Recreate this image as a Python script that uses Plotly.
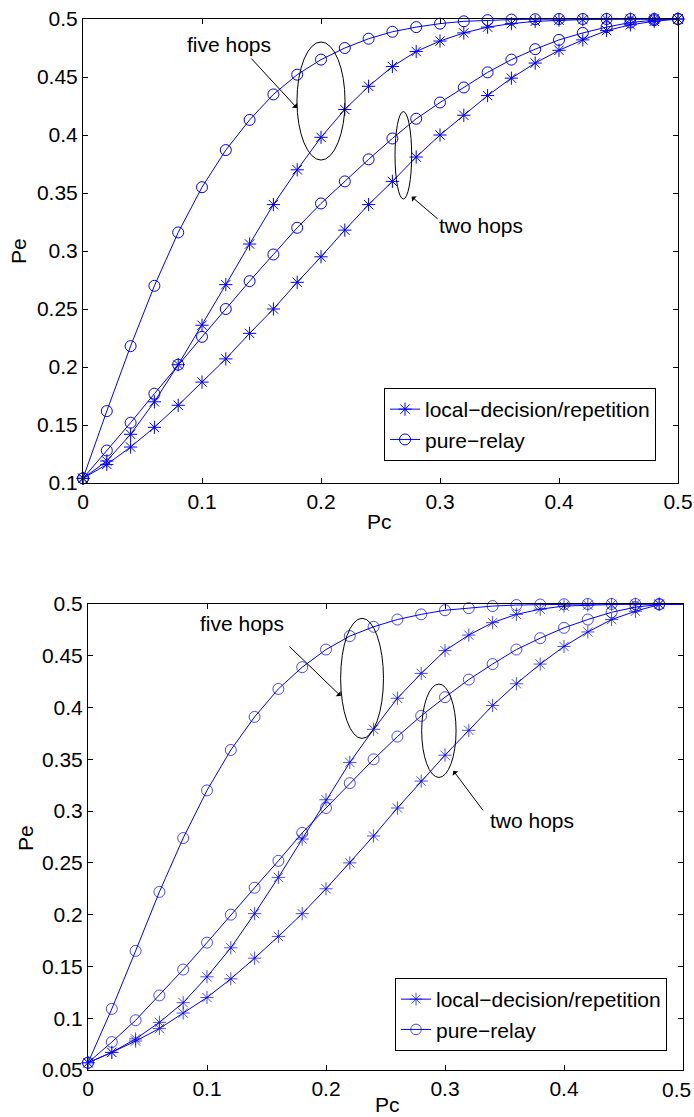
import plotly.graph_objects as go

# ---------------- data ----------------
pc_top = [round(0.02 * i, 2) for i in range(26)]
top_five_ld = [0.104, 0.119, 0.142, 0.170, 0.202, 0.236, 0.271, 0.306, 0.340, 0.370, 0.398, 0.422, 0.442,
               0.459, 0.472, 0.481, 0.488, 0.493, 0.496, 0.498, 0.499, 0.4995, 0.4998, 0.5, 0.5, 0.5]
top_five_pr = [0.104, 0.162, 0.218, 0.270, 0.316, 0.355, 0.387, 0.413, 0.435, 0.452, 0.465, 0.475, 0.483,
               0.489, 0.493, 0.496, 0.498, 0.499, 0.4995, 0.4998, 0.5, 0.5, 0.5, 0.5, 0.5, 0.5]
top_two_ld = [0.104, 0.116, 0.131, 0.148, 0.167, 0.187, 0.207, 0.229, 0.250, 0.273, 0.295, 0.318, 0.340,
              0.360, 0.381, 0.400, 0.417, 0.434, 0.449, 0.462, 0.473, 0.482, 0.490, 0.495, 0.498, 0.5]
top_two_pr = [0.104, 0.128, 0.152, 0.177, 0.202, 0.226, 0.250, 0.274, 0.297, 0.320, 0.341, 0.360, 0.379,
              0.397, 0.414, 0.428, 0.441, 0.454, 0.465, 0.474, 0.482, 0.488, 0.493, 0.497, 0.499, 0.5]

pc_bot = [round(0.02 * i, 2) for i in range(26)]
bot_five_pr = [0.057, 0.109, 0.165, 0.222, 0.274, 0.320, 0.359, 0.391, 0.418, 0.439, 0.456, 0.469, 0.478,
               0.485, 0.490, 0.494, 0.496, 0.498, 0.499, 0.4995, 0.4998, 0.5, 0.5, 0.5, 0.5, 0.5]
bot_five_ld = [0.057, 0.067, 0.080, 0.096, 0.115, 0.140, 0.168, 0.201, 0.236, 0.273, 0.311, 0.347, 0.379,
               0.409, 0.433, 0.455, 0.470, 0.482, 0.490, 0.495, 0.498, 0.499, 0.4995, 0.4998, 0.5, 0.5]
bot_two_pr = [0.057, 0.077, 0.098, 0.122, 0.147, 0.173, 0.200, 0.226, 0.252, 0.279, 0.303, 0.327, 0.350,
              0.372, 0.392, 0.410, 0.427, 0.442, 0.456, 0.467, 0.477, 0.485, 0.492, 0.497, 0.4995, 0.5]
bot_two_ld = [0.057, 0.067, 0.078, 0.090, 0.105, 0.120, 0.138, 0.158, 0.179, 0.201, 0.225, 0.250, 0.276,
              0.303, 0.329, 0.354, 0.378, 0.402, 0.423, 0.442, 0.459, 0.473, 0.485, 0.493, 0.4995, 0.5]

x_ticks = [0, 0.1, 0.2, 0.3, 0.4, 0.5]
x_ticktext = ["0", "0.1", "0.2", "0.3", "0.4", "0.5"]
top_y_ticks = [0.1, 0.15, 0.2, 0.25, 0.3, 0.35, 0.4, 0.45, 0.5]
top_y_ticktext = ["0.1", "0.15", "0.2", "0.25", "0.3", "0.35", "0.4", "0.45", "0.5"]
bot_y_ticks = [0.05, 0.1, 0.15, 0.2, 0.25, 0.3, 0.35, 0.4, 0.45, 0.5]
bot_y_ticktext = ["0.05", "0.1", "0.15", "0.2", "0.25", "0.3", "0.35", "0.4", "0.45", "0.5"]

name_ld = "local\u2212decision/repetition"
name_pr = "pure\u2212relay"

# ---------------- styling ----------------
FONT = "Liberation Sans, Arial, Helvetica, sans-serif"
FS = 21
BLUE = "#0000ff"
MS = 11

fig = go.Figure()


def add(x, y, symbol, name, show, xa, ya, leg, sizes=None):
    fig.add_trace(go.Scatter(
        x=x, y=y, mode="lines+markers", name=name, showlegend=show, legend=leg,
        xaxis=xa, yaxis=ya, cliponaxis=False,
        line=dict(color=BLUE, width=1),
        marker=dict(symbol=symbol, size=sizes if sizes is not None else MS,
                    color=BLUE, line=dict(color=BLUE, width=1)),
    ))


add(pc_top, top_five_ld, "asterisk-open", name_ld, True, "x", "y", "legend")
add(pc_top, top_five_pr, "circle-open", name_pr, True, "x", "y", "legend")
add(pc_top, top_two_ld, "asterisk-open", name_ld, False, "x", "y", "legend")
add(pc_top, top_two_pr, "circle-open", name_pr, False, "x", "y", "legend")

bot_sizes = [MS] * 25 + [0]
add(pc_bot, bot_five_ld, "asterisk-open", name_ld, True, "x2", "y2", "legend2", bot_sizes)
add(pc_bot, bot_five_pr, "circle-open", name_pr, True, "x2", "y2", "legend2", bot_sizes)
add(pc_bot, bot_two_ld, "asterisk-open", name_ld, False, "x2", "y2", "legend2", bot_sizes)
add(pc_bot, bot_two_pr, "circle-open", name_pr, False, "x2", "y2", "legend2", bot_sizes)

W, H = 694, 1117
axis_common = dict(showgrid=False, zeroline=False, showline=True, linecolor="black", linewidth=1,
                   mirror="ticks", ticks="inside", ticklen=5, tickcolor="black", automargin=False,
                   tickfont=dict(family=FONT, size=FS, color="black"))

fig.update_layout(
    template="none",
    width=W, height=H, margin=dict(l=0, r=0, t=0, b=0, autoexpand=False),
    paper_bgcolor="white", plot_bgcolor="white",
    font=dict(family=FONT, size=FS, color="black"),
    xaxis=dict(domain=[83 / W, 678 / W], range=[0, 0.5], anchor="y",
               tickvals=x_ticks, ticktext=x_ticktext, **axis_common),
    yaxis=dict(domain=[1 - 483 / H, 1 - 19 / H], range=[0.1, 0.5], anchor="x",
               tickvals=top_y_ticks, ticktext=top_y_ticktext, **axis_common),
    xaxis2=dict(domain=[88 / W, 683 / W], range=[0, 0.5], anchor="y2",
                tickvals=x_ticks[:-1], ticktext=x_ticktext[:-1], **axis_common),
    yaxis2=dict(domain=[1 - 1070 / H, 1 - 604 / H], range=[0.05, 0.5], anchor="x2",
                tickvals=bot_y_ticks, ticktext=bot_y_ticktext, **axis_common),
    legend=dict(x=384 / W, y=1 - 388 / H, xanchor="left", yanchor="top",
                bordercolor="black", borderwidth=1, bgcolor="white",
                font=dict(family=FONT, size=FS, color="black"), tracegroupgap=0),
    legend2=dict(x=395 / W, y=1 - 978 / H, xanchor="left", yanchor="top",
                 bordercolor="black", borderwidth=1, bgcolor="white",
                 font=dict(family=FONT, size=FS, color="black"), tracegroupgap=0),
)

# ---------------- annotations (ellipses, arrows, labels) ----------------
ellipses = [
    ("x", "y", 0.1798, 0.2202, 0.3784, 0.4802),
    ("x", "y", 0.2622, 0.2762, 0.3448, 0.4202),
    ("x2", "y2", 0.2123, 0.2483, 0.3702, 0.4862),
    ("x2", "y2", 0.2804, 0.3093, 0.3325, 0.4227),
]
for xr, yr, x0, x1, y0, y1 in ellipses:
    fig.add_shape(type="circle", xref=xr, yref=yr, x0=x0, x1=x1, y0=y0, y1=y1,
                  line=dict(color="black", width=1))

labels = [
    ("x", "y", 0.1227, 0.4776, "five hops"),
    ("x", "y", 0.3345, 0.3224, "two hops"),
    ("x2", "y2", 0.1298, 0.4807, "five hops"),
    ("x2", "y2", 0.3735, 0.2907, "two hops"),
]
for xr, yr, x, y, t in labels:
    fig.add_annotation(xref=xr, yref=yr, x=x, y=y, text=t, showarrow=False,
                       font=dict(family=FONT, size=FS, color="black"))

arrows = [
    ("x", "y", 0.1798, 0.4233, 0.1403, 0.4672),
    ("x", "y", 0.2762, 0.3468, 0.2992, 0.3267),
    ("x2", "y2", 0.2124, 0.4111, 0.168, 0.4604),
    ("x2", "y2", 0.307, 0.339, 0.3328, 0.2994),
]
for xr, yr, x, y, ax, ay in arrows:
    fig.add_annotation(xref=xr, yref=yr, x=x, y=y, ax=ax, ay=ay, axref=xr, ayref=yr,
                       text="", showarrow=True, arrowhead=1, arrowsize=1.2, arrowwidth=1,
                       arrowcolor="black")

# last x tick label of the lower panel (kept inside the page edge)
fig.add_annotation(xref="paper", yref="paper", x=693 / W, y=1 - 1089 / H, text=x_ticktext[-1],
                   showarrow=False, xanchor="right", yanchor="middle",
                   font=dict(family=FONT, size=FS, color="black"))

# axis titles
titles = [
    (380 / W, 1 - 521 / H, "Pc", 0),
    (18 / W, 1 - 251 / H, "Pe", -90),
    (387 / W, 1 - 1104 / H, "Pc", 0),
    (25 / W, 1 - 838 / H, "Pe", -90),
]
for x, y, t, ang in titles:
    fig.add_annotation(xref="paper", yref="paper", x=x, y=y, text=t, showarrow=False,
                       textangle=ang, xanchor="center", yanchor="middle",
                       font=dict(family=FONT, size=FS, color="black"))

fig.write_html("out.html", config={"displayModeBar": False},
               post_script="document.body.style.margin='0';document.body.style.overflow='hidden';")
